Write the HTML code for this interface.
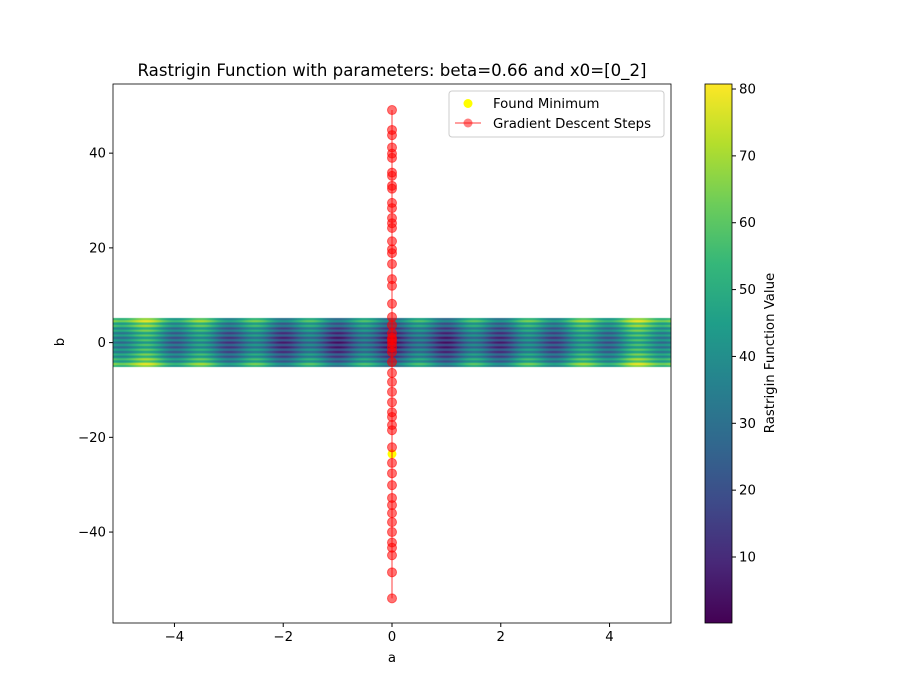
<!DOCTYPE html>
<html><head><meta charset="utf-8"><style>
body{margin:0;background:#fff;font-family:"DejaVu Sans","Liberation Sans",sans-serif}
#wrap{position:relative;width:900px;height:700px}
canvas,svg{position:absolute;left:0;top:0}
</style></head><body>
<div id="wrap">
<canvas id="hm" width="900" height="700"></canvas>
<svg id="svg" width="900" height="700" font-size="13.3" font-family="DejaVu Sans, Liberation Sans, sans-serif"></svg>
</div>
<script>
const xTicks=[-4,-2,0,2,4];
const yTicks=[-40,-20,0,20,40];
const cbTicks=[10,20,30,40,50,60,70,80];
const stepsB=[49.1,44.9,43.8,41.2,39.9,39.0,35.9,35.2,33.1,32.5,29.5,28.4,26.3,25.2,24.2,21.4,19.7,18.9,16.6,13.4,12.0,8.2,5.4,3.7,2.0,1.0,0.5,-0.1,-1.0,-2.0,-4.1,-6.4,-8.3,-10.4,-12.6,-14.7,-15.7,-17.4,-18.5,-22.1,-25.4,-27.6,-30.1,-32.8,-34.3,-36.0,-37.9,-40.0,-42.2,-43.3,-44.9,-48.5,-54.0];
const stepsA=stepsB.map(()=>0);
const minA=[0], minB=[-23.5];
const gridRange=[-5.12,5.12];
const cbRange=[0.13,80.75];

const L=113,R=671,T=84,B=623;
const xMin=-5.13,xMax=5.13,yMin=-59.2,yMax=54.6;
const X=v=>L+(v-xMin)/(xMax-xMin)*(R-L);
const Y=v=>B-(v-yMin)/(yMax-yMin)*(B-T);
const CL=705,CR=732;
const CY=v=>B-(v-cbRange[0])/(cbRange[1]-cbRange[0])*(B-T);
const vir=[[68,1,84],[72,40,120],[62,74,137],[49,104,142],[38,130,142],[31,158,137],[53,183,121],[109,205,89],[180,222,44],[253,231,37]];
function cmap(t){t=Math.max(0,Math.min(1,t))*(vir.length-1);const i=Math.min(Math.floor(t),vir.length-2),f=t-i;return vir[i].map((c,k)=>Math.round(c+(vir[i+1][k]-c)*f));}
const ras=(a,b)=>20+a*a-10*Math.cos(2*Math.PI*a)+b*b-10*Math.cos(2*Math.PI*b);
const ctx=document.getElementById('hm').getContext('2d');
const y0=Math.round(Y(gridRange[1])),y1=Math.round(Y(gridRange[0]));
for(let py=y0;py<y1;py++){for(let px=L;px<R;px++){
 const a=xMin+(px+0.5-L)/(R-L)*(xMax-xMin);const b=yMin+(B-py-0.5)/(B-T)*(yMax-yMin);
 const c=cmap((ras(a,b)-cbRange[0])/(cbRange[1]-cbRange[0]));ctx.fillStyle=`rgb(${c})`;ctx.fillRect(px,py,1,1);}}
const svg=document.getElementById('svg');const NS='http://www.w3.org/2000/svg';
function el(t,at,txt){const e=document.createElementNS(NS,t);for(const k in at)e.setAttribute(k,at[k]);if(txt!=null)e.textContent=txt;svg.appendChild(e);return e;}
const defs=el('defs',{});const g=document.createElementNS(NS,'linearGradient');g.setAttribute('id','cg');g.setAttribute('x1','0');g.setAttribute('y1','1');g.setAttribute('x2','0');g.setAttribute('y2','0');defs.appendChild(g);
vir.forEach((c,i)=>{const s=document.createElementNS(NS,'stop');s.setAttribute('offset',i/(vir.length-1));s.setAttribute('stop-color',`rgb(${c})`);g.appendChild(s);});
minA.forEach((a,i)=>{const p=el('circle',{cx:X(a),cy:Y(minB[i]),r:4.5,fill:'#ff0'});
 });
let e=el('polyline',{points:stepsA.map((a,i)=>X(a)+','+Y(stepsB[i])).join(' '),fill:'none',stroke:'rgba(255,0,0,0.5)','stroke-width':1.5});

stepsA.forEach((a,i)=>{const p=el('circle',{cx:X(a),cy:Y(stepsB[i]),r:4.5,fill:'rgba(255,0,0,0.55)',stroke:'rgba(255,0,0,0.55)'});
 });
e=el('rect',{x:L,y:T,width:R-L,height:B-T,fill:'none',stroke:'#000','stroke-width':0.8});
xTicks.forEach(v=>{el('line',{x1:X(v),x2:X(v),y1:B,y2:B+4,stroke:'#000'});
 const t=el('text',{x:X(v),y:B+18,'text-anchor':'middle'},v<0?'\u2212'+(-v):v);});
yTicks.forEach(v=>{el('line',{x1:L-4,x2:L,y1:Y(v),y2:Y(v),stroke:'#000'});
 const t=el('text',{x:L-7,y:Y(v)+4.5,'text-anchor':'end'},v<0?'\u2212'+(-v):v);});
e=el('text',{x:392,y:662,'text-anchor':'middle'},'a');
e=el('text',{x:64,y:342,'text-anchor':'middle',transform:'rotate(-90 64 342)'},'b');
e=el('text',{x:392,y:76,'text-anchor':'middle','font-size':16.6},'Rastrigin Function with parameters: beta=0.66 and x0=[0_2]');
e=el('rect',{x:CL,y:T,width:CR-CL,height:B-T,fill:'url(#cg)',stroke:'#000','stroke-width':0.8});
cbTicks.forEach(v=>{el('line',{x1:CR,x2:CR+4,y1:CY(v),y2:CY(v),stroke:'#000'});
 const t=el('text',{x:CR+7,y:CY(v)+4.5},v);});
e=el('text',{x:774,y:353,'text-anchor':'middle',transform:'rotate(-90 774 353)'},'Rastrigin Function Value');
e=el('rect',{x:449,y:91,width:215,height:46,rx:3,fill:'rgba(255,255,255,0.8)',stroke:'#ccc'});
el('circle',{cx:468,cy:103.5,r:4.5,fill:'#ff0'});
e=el('text',{x:493,y:108},'Found Minimum');
el('line',{x1:455,x2:481,y1:123,y2:123,stroke:'rgba(255,0,0,0.5)','stroke-width':1.5});
el('circle',{cx:468,cy:123,r:4.5,fill:'rgba(255,0,0,0.5)'});
e=el('text',{x:493,y:128},'Gradient Descent Steps');
</script>
</body></html>
